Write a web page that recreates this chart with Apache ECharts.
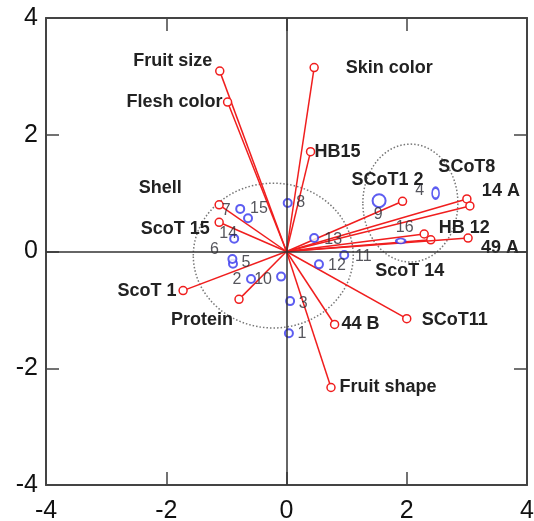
<!DOCTYPE html>
<html>
<head>
<meta charset="utf-8">
<script src="https://cdn.jsdelivr.net/npm/echarts@6/dist/echarts.min.js"></script>
<style>
html,body{margin:0;padding:0;background:#fff;}
#chart{width:534px;height:521px;}
</style>
</head>
<body>
<div id="chart"></div>
<script>
// ---- data ----
const tickValues = [-4, -2, 0, 2, 4];
const varNames = ['Fruit size', 'Flesh color', 'Skin color', 'HB15', 'SCoT1 2', 'SCoT8', '14 A', 'HB 12', 'ScoT 14', '49 A', 'SCoT11', '44 B', 'Fruit shape', 'Protein', 'ScoT 1', 'ScoT 15', 'Shell'];
const varX = [-1.11, -0.98, 0.46, 0.40, 1.93, 3.00, 3.05, 2.29, 2.40, 3.02, 2.00, 0.80, 0.74, -0.79, -1.72, -1.12, -1.12];
const varY = [3.09, 2.56, 3.15, 1.71, 0.86, 0.90, 0.78, 0.30, 0.20, 0.23, -1.15, -1.25, -2.33, -0.82, -0.67, 0.50, 0.80];
const genoNames = ['1','2','3','4','5','6','7','8','9','10','11','12','13','14','15','16'];
const genoX = [0.04, -0.59, 0.06, 2.48, -0.89, -0.90, -0.77, 0.02, 1.54, -0.09, 0.96, 0.54, 0.46, -0.87, -0.64, 1.90];
const genoY = [-1.40, -0.47, -0.85, 1.00, -0.21, -0.13, 0.73, 0.83, 0.87, -0.43, -0.06, -0.22, 0.23, 0.22, 0.57, 0.18];
const groupCenterX = [-0.22, 2.06];
const groupCenterY = [-0.07, 0.83];
const groupRadiusX = [1.33, 0.79];
const groupRadiusY = [1.24, 1.01];

// ---- layout / style (not data) ----
const varLabelOffset = [[-47,-10],[-53,0],[75,0],[27,0],[-15,-21],[0,-32],[31,-15],[40,-6],[-21,31],[32,10],[48,1],[26,0],[57,0],[-37,21],[-36,0],[-44,7],[-59,-17]];
const genoLabelOffset = [[13,0],[-14,1],[13,2],[-16,-3],[13,-1],[-18,-9],[-14,2],[13,0],[-1,14],[-18,3],[19,2],[18,1],[19,2],[-6,-5],[11,-10],[4,-13]];
const genoSymbolSize = {'4':[7,11], '9':13, '16':[9,5]};

const FONT = '"Liberation Sans", Arial, sans-serif';
const RED = '#f01e1e';
const BLUE = '#3535ee';
const AXIS = '#444';

const chart = echarts.init(document.getElementById('chart'), null, {renderer: 'canvas'});

function axisBase(pos, showLabel, isY) {
  return {
    type: 'value', min: -4, max: 4, interval: 2, position: pos,
    axisLine: {show: true, onZero: false, lineStyle: {color: AXIS, width: 2}},
    axisTick: {show: true, inside: true, length: 13, lineStyle: {color: AXIS, width: 1.5}},
    axisLabel: {show: showLabel, color: '#111', fontSize: 25, fontFamily: FONT,
      margin: isY ? 8 : 14,
      padding: isY ? [5, 0, 0, 0] : 0,
      formatter: v => tickValues.indexOf(v) >= 0 ? String(v) : ''},
    splitLine: {show: false}
  };
}

const option = {
  animation: false,
  backgroundColor: '#fff',
  grid: {left: 46, right: 7, top: 18, bottom: 36, outerBoundsMode: 'none'},
  xAxis: [axisBase('bottom', true, false), axisBase('top', false, false)],
  yAxis: [axisBase('left', true, true), axisBase('right', false, true)],
  series: [
    {
      type: 'custom',
      name: 'groups',
      xAxisIndex: 0, yAxisIndex: 0,
      silent: true,
      z: 1,
      data: groupCenterX.map((x, i) => [x, groupCenterY[i], groupRadiusX[i], groupRadiusY[i]]),
      renderItem: function (params, api) {
        const c = api.coord([api.value(0), api.value(1)]);
        const rx = api.size([api.value(2), 0])[0];
        const ry = api.size([0, api.value(3)])[1];
        return {
          type: 'ellipse',
          shape: {cx: c[0], cy: c[1], rx: rx, ry: ry},
          style: {fill: 'none', stroke: '#777', lineWidth: 1.5, lineDash: [1.5, 2]}
        };
      },
      markLine: {
        silent: true, symbol: 'none', animation: false,
        label: {show: false},
        lineStyle: {color: '#333', width: 1.5, type: 'solid'},
        data: [{xAxis: 0}, {yAxis: 0}]
      }
    },
    {
      type: 'custom',
      name: 'variables',
      xAxisIndex: 0, yAxisIndex: 0,
      z: 3,
      data: varX.map((x, i) => [x, varY[i]]),
      renderItem: function (params, api) {
        const i = params.dataIndex;
        const o = api.coord([0, 0]);
        const p = api.coord([api.value(0), api.value(1)]);
        const off = varLabelOffset[i];
        return {
          type: 'group',
          children: [
            {type: 'line', shape: {x1: o[0], y1: o[1], x2: p[0], y2: p[1]},
             style: {stroke: RED, lineWidth: 1.5}},
            {type: 'circle', shape: {cx: p[0], cy: p[1], r: 4},
             style: {fill: '#fff', stroke: RED, lineWidth: 1.5}},
            {type: 'text', x: p[0] + off[0], y: p[1] + off[1],
             style: {text: varNames[i], fill: '#222', font: 'bold 18px ' + FONT,
                     align: 'center', verticalAlign: 'middle'}}
          ]
        };
      }
    },
    {
      type: 'scatter',
      name: 'genotypes',
      xAxisIndex: 0, yAxisIndex: 0,
      z: 4,
      symbol: 'emptyCircle',
      symbolSize: 8,
      itemStyle: {color: BLUE, borderColor: BLUE, borderWidth: 1.5},
      label: {show: true, position: 'inside', color: '#2a2a33', fontSize: 16, fontFamily: FONT,
              formatter: p => genoNames[p.dataIndex]},
      data: genoX.map((x, i) => ({
        value: [x, genoY[i]],
        symbolSize: genoSymbolSize[genoNames[i]] || 8,
        label: {offset: genoLabelOffset[i]}
      }))
    }
  ]
};
chart.setOption(option);
</script>
</body>
</html>
